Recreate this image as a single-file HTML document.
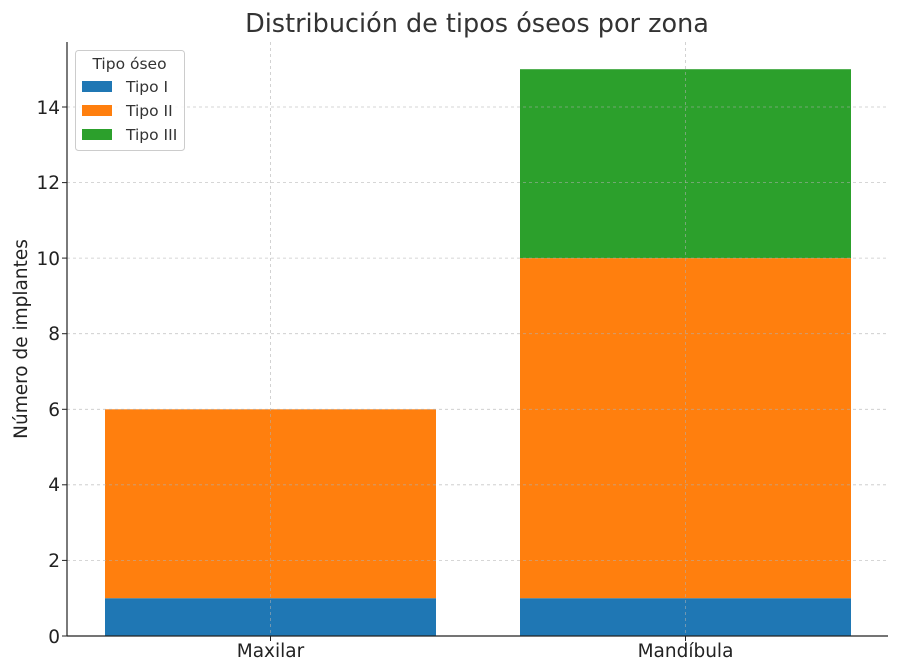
<!DOCTYPE html>
<html><head><meta charset="utf-8"><style>
body{margin:0;background:#fff;}
svg{display:block;font-family:"DejaVu Sans","Liberation Sans",sans-serif;}
</style></head><body>
<svg width="900" height="672" xmlns="http://www.w3.org/2000/svg">
<rect width="900" height="672" fill="#fff"/>
<text x="477" y="32" font-size="25.5" text-anchor="middle" fill="#333">Distribución de tipos óseos por zona</text>
<rect x="105" y="598.2" width="331" height="37.8" fill="#1f77b4"/>
<rect x="105" y="409.3" width="331" height="188.9" fill="#ff7f0e"/>
<rect x="520" y="598.2" width="331" height="37.8" fill="#1f77b4"/>
<rect x="520" y="258.1" width="331" height="340.1" fill="#ff7f0e"/>
<rect x="520" y="69.2" width="331" height="188.9" fill="#2ca02c"/>
<g stroke="#b0b0b0" stroke-opacity="0.7" stroke-width="0.8" stroke-dasharray="3,3">
<line x1="67" x2="888" y1="560.4" y2="560.4"/>
<line x1="67" x2="888" y1="484.8" y2="484.8"/>
<line x1="67" x2="888" y1="409.3" y2="409.3"/>
<line x1="67" x2="888" y1="333.7" y2="333.7"/>
<line x1="67" x2="888" y1="258.1" y2="258.1"/>
<line x1="67" x2="888" y1="182.6" y2="182.6"/>
<line x1="67" x2="888" y1="107" y2="107"/>
<line x1="270.5" x2="270.5" y1="42" y2="636"/>
<line x1="685.5" x2="685.5" y1="42" y2="636"/>
</g>
<line x1="67" x2="67" y1="42" y2="636" stroke="#222" stroke-width="1.2"/>
<line x1="67" x2="888" y1="636" y2="636" stroke="#222" stroke-width="1.2"/>
<g font-size="18.5" fill="#222" text-anchor="end">
<text x="60" y="643">0</text>
<text x="60" y="567">2</text>
<text x="60" y="491">4</text>
<text x="60" y="416">6</text>
<text x="60" y="340">8</text>
<text x="60" y="265">10</text>
<text x="60" y="189">12</text>
<text x="60" y="114">14</text>
</g>
<g stroke="#222"><line x1="62" x2="67" y1="636" y2="636"/><line x1="62" x2="67" y1="560.4" y2="560.4"/><line x1="62" x2="67" y1="484.8" y2="484.8"/><line x1="62" x2="67" y1="409.3" y2="409.3"/><line x1="62" x2="67" y1="333.7" y2="333.7"/><line x1="62" x2="67" y1="258.1" y2="258.1"/><line x1="62" x2="67" y1="182.6" y2="182.6"/><line x1="62" x2="67" y1="107" y2="107"/>
<line x1="270.5" x2="270.5" y1="636" y2="641"/><line x1="685.5" x2="685.5" y1="636" y2="641"/></g>
<g font-size="18.5" fill="#222" text-anchor="middle">
<text x="270.5" y="657">Maxilar</text>
<text x="685.5" y="657">Mandíbula</text>
</g>
<text transform="translate(27,339) rotate(-90)" font-size="18.5" fill="#222" text-anchor="middle">Número de implantes</text>
<rect x="75.5" y="50.5" width="109" height="100" rx="3" fill="#fff" fill-opacity="0.85" stroke="#ccc"/>
<text x="129.5" y="69" font-size="15.5" fill="#333" text-anchor="middle">Tipo óseo</text>
<rect x="82" y="81" width="30" height="11" fill="#1f77b4"/>
<rect x="82" y="105" width="30" height="11" fill="#ff7f0e"/>
<rect x="82" y="129" width="30" height="11" fill="#2ca02c"/>
<g font-size="15.5" fill="#333">
<text x="126" y="92">Tipo I</text>
<text x="126" y="116">Tipo II</text>
<text x="126" y="140">Tipo III</text>
</g>
</svg>
</body></html>
